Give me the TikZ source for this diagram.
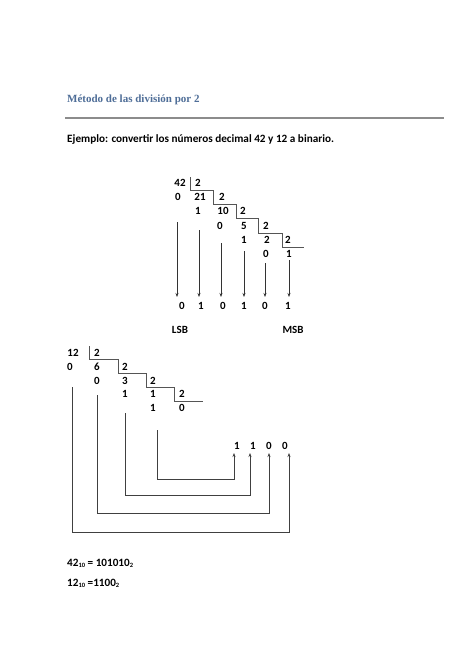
\documentclass[tikz,border=0pt]{standalone}
\usepackage{fontspec}
\setmainfont{Carlito}
\newfontfamily\titlefont{Liberation Serif}
\usetikzlibrary{arrows.meta}
\definecolor{titleblue}{HTML}{4F6E98}
\definecolor{rulegrey}{HTML}{8C8C8C}
\definecolor{stairgrey}{HTML}{555555}
\tikzset{
  num/.style={inner sep=0pt, font=\fontsize{11}{13}\selectfont\bfseries},
  txt/.style={inner sep=0pt, anchor=west, font=\fontsize{11.2}{13}\selectfont\bfseries},
  stair/.style={draw=stairgrey, line width=0.9pt},
  arr/.style={draw=black!80, line width=0.7pt, -{Stealth[length=4pt,width=3pt]}},
  brk/.style={draw=black!75, line width=0.7pt, -{Stealth[length=4pt,width=3pt]}}
}
\newcommand{\subnum}[1]{\raisebox{-1pt}{\fontsize{6.5}{7}\selectfont #1}}
\begin{document}
\begin{tikzpicture}[x=1pt,y=-1pt]
\useasboundingbox[fill=white] (0,0) rectangle (474,670);
% header
\node[inner sep=0pt, anchor=west, text=titleblue, font=\titlefont\fontsize{11}{13}\selectfont\bfseries] (title) at (67,100) {Método de las división por 2};
\coordinate (rl) at (65,118);
\coordinate (rr) at (444,118);
\draw[rulegrey, line width=1.3pt] (rl) -- (rr);
\node[txt] (ej) at (67,140) {Ejemplo: convertir los números decimal 42 y 12 a binario.};

% ---------- 42 ----------
\node[num] (a42) at (180,183) {42};
\node[num] (a2a) at (198,183) {2};
\node[num] (a0a) at (178,197) {0};
\node[num] (a21) at (200,197) {21};
\node[num] (a2b) at (222,197) {2};
\node[num] (a1a) at (198,211) {1};
\node[num] (a10) at (223,211) {10};
\node[num] (a2c) at (243,211) {2};
\node[num] (a0b) at (220,226) {0};
\node[num] (a5) at (244,226) {5};
\node[num] (a2d) at (266,226) {2};
\node[num] (a1b) at (244,240) {1};
\node[num] (a2e) at (267,240) {2};
\node[num] (a2f) at (288,240) {2};
\node[num] (a0c) at (266,254) {0};
\node[num] (a1c) at (289,254) {1};

\draw[stair] (190.5,177) |- (213,190) |- (236,204) |- (258,218) |- (282,233) |- (304,247);

% result bits
\node[num] (b1) at (182,306) {0};
\node[num] (b2) at (201,306) {1};
\node[num] (b3) at (223,306) {0};
\node[num] (b4) at (244,306) {1};
\node[num] (b5) at (265,306) {0};
\node[num] (b6) at (288,306) {1};
\coordinate (s1) at (177,222); \coordinate (e1) at (177,297);
\coordinate (s2) at (199,230); \coordinate (e2) at (199,297);
\coordinate (s3) at (221,243); \coordinate (e3) at (221,297);
\coordinate (s4) at (244,251); \coordinate (e4) at (244,297);
\coordinate (s5) at (265,263); \coordinate (e5) at (265,297);
\coordinate (s6) at (289,260); \coordinate (e6) at (289,297);
\foreach \i in {1,...,6} { \draw[arr] (s\i) -- (e\i); }

\node[num] (lsb) at (180,330) {LSB};
\node[num] (msb) at (293,330) {MSB};

% ---------- 12 ----------
\node[num] (c12) at (73,353) {12};
\node[num] (c2a) at (97,353) {2};
\node[num] (c0a) at (70,367) {0};
\node[num] (c6) at (97,367) {6};
\node[num] (c2b) at (125,367) {2};
\node[num] (c0b) at (97,381) {0};
\node[num] (c3) at (125,381) {3};
\node[num] (c2c) at (153,381) {2};
\node[num] (c1a) at (125,394) {1};
\node[num] (c1b) at (153,394) {1};
\node[num] (c2d) at (182,394) {2};
\node[num] (c1c) at (153,408) {1};
\node[num] (c0c) at (182,408) {0};

\draw[stair] (89,346) |- (118,359) |- (146,373) |- (174,387) |- (203,401);

\node[num] (d1) at (237,446) {1};
\node[num] (d2) at (253,446) {1};
\node[num] (d3) at (269,446) {0};
\node[num] (d4) at (285,446) {0};

\coordinate (t1) at (157,430); \coordinate (u1) at (234,453);
\coordinate (t2) at (125,413); \coordinate (u2) at (250,453);
\coordinate (t3) at (97,395);  \coordinate (u3) at (269,453);
\coordinate (t4) at (72,387);  \coordinate (u4) at (289,453);
\coordinate (v1) at (157,479);
\coordinate (v2) at (125,495);
\coordinate (v3) at (97,513);
\coordinate (v4) at (72,532);
\foreach \i in {1,...,4} { \draw[brk] (t\i) -- (v\i) -| (u\i); }

% ---------- results ----------
\node[txt] (r1) at (67,563) {42\subnum{10} = 101010\subnum{2}};
\node[txt] (r2) at (67,583) {12\subnum{10} =1100\subnum{2}};
\end{tikzpicture}
\end{document}
